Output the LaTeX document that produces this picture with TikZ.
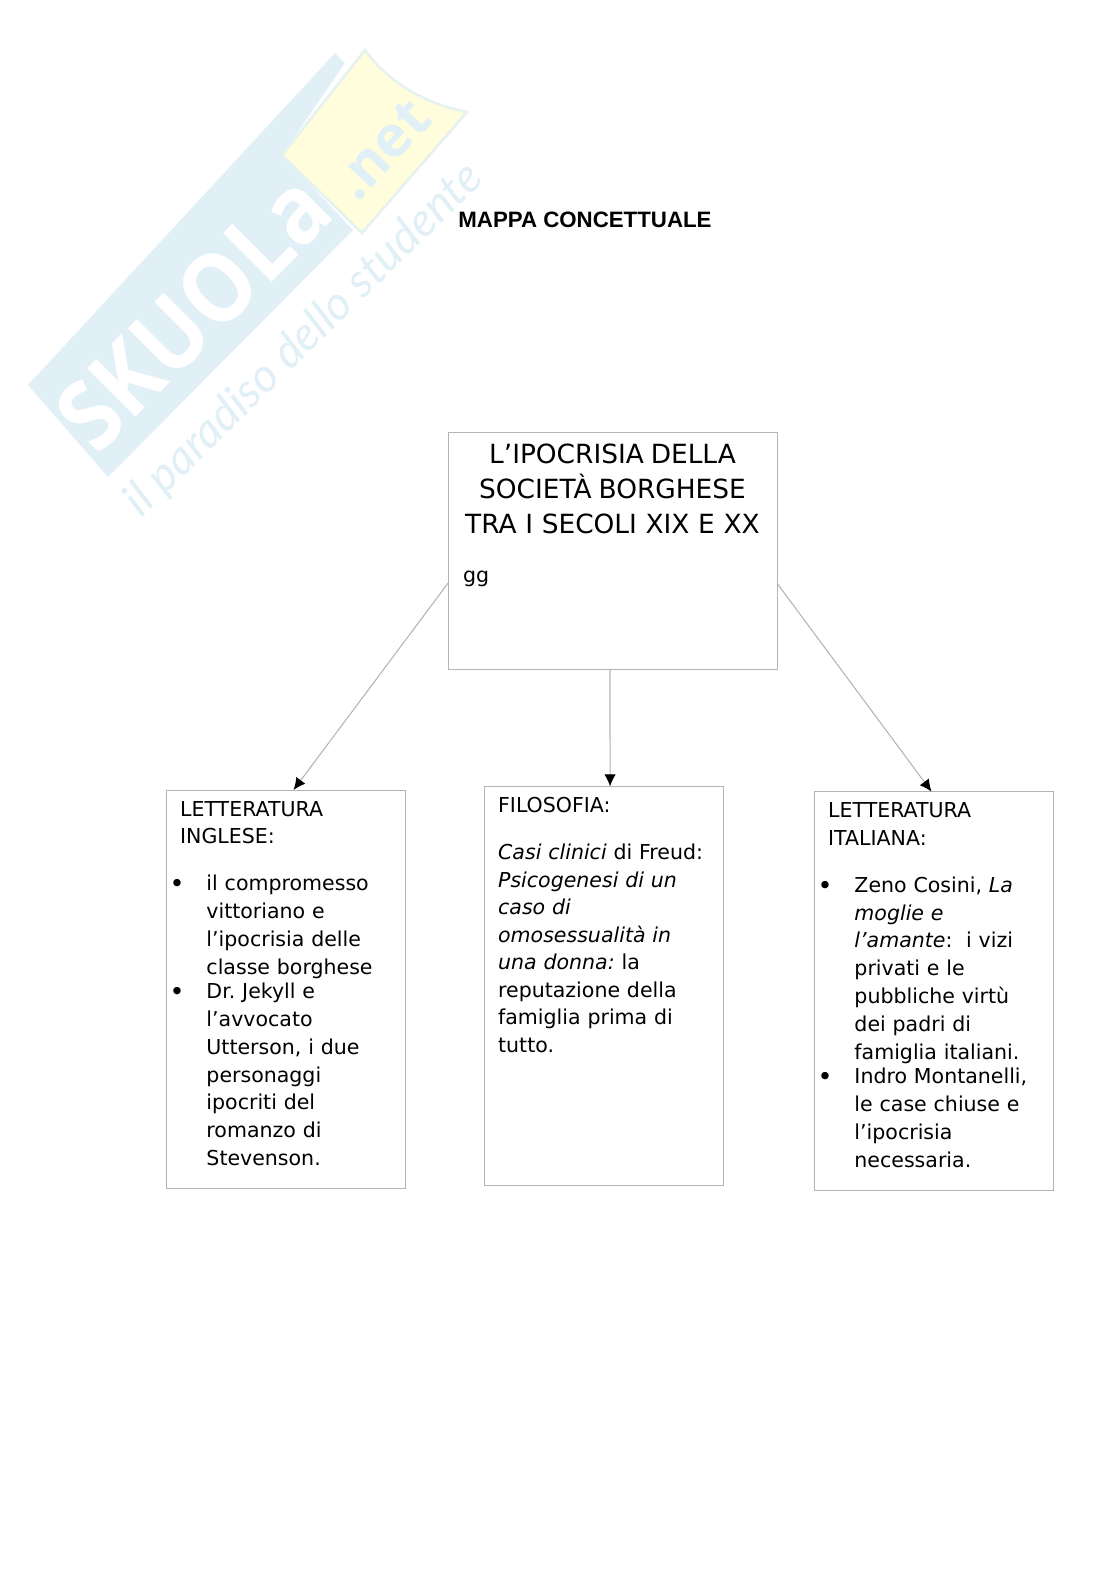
\documentclass[tikz,border=0pt]{standalone}
\usepackage{fontspec}
\usepackage{xcolor}
\usetikzlibrary{positioning, arrows.meta}
\setmainfont{DejaVu Sans}
\newfontfamily\titolofont{Liberation Sans}
\newfontfamily\marchiofont{Open Sans}
\newfontfamily\mottofont{Lato}
\definecolor{bordo}{HTML}{B4B4B4}
\definecolor{marchioblu}{HTML}{E1EFF7}
\definecolor{marchiogiallo}{HTML}{FFFDDC}
\definecolor{marchiotratto}{HTML}{E6F2EE}
\newcommand{\voce}[1]{\par\noindent\makebox[19.75pt][l]{\hspace*{-7.9pt}\raisebox{-1.3pt}{\fontsize{19}{19}\selectfont •}}%
    \parbox[t]{139pt}{\fontsize{15.4}{20.85}\selectfont\raggedright #1\par\xdef\ultimaprof{\the\prevdepth}}\par\prevdepth=\ultimaprof\relax}
\frenchspacing

\begin{document}
\begin{tikzpicture}[
            x=0.75pt, y=-0.75pt,
            scatola/.style={draw=bordo, line width=0.7pt, anchor=north west, outer sep=0pt,
                inner xsep=10.6pt, inner ysep=8.5pt, text width=158.1pt, align=left,
                font=\fontsize{15.4}{20.6}\selectfont},
            freccia/.style={draw=bordo, line width=0.8pt, -{Latex[black, length=9pt, width=8.5pt]}},
        ]
            \useasboundingbox (0,0) rectangle (1116,1579);
            % marchio
            \fill[marchioblu] (28,385) -- (335,53) -- (345,63) -- (282,155) -- (353,230) -- (108,477) -- cycle;
            \fill[marchiogiallo, draw=marchiotratto, line width=2pt] (282,155) -- (365,50)
                .. controls (390,85) and (430,105) .. (467,112) -- (362,233) -- cycle;
            \node[rotate=45, xscale=.9, text=white, inner sep=0pt] (marchio) at (193,312)
                {\marchiofont\bfseries\fontsize{72}{72}\selectfont SKUOLa};
            \node[rotate=47, text=marchioblu, inner sep=0pt] (marchionet) at (382,150)
                {\marchiofont\bfseries\fontsize{43}{43}\selectfont .net};
            \node[rotate=44.5, text=marchioblu, inner sep=0pt] (motto) at (304,340)
                {\mottofont\itshape\fontsize{35}{35}\selectfont il paradiso dello studente};

            \node[inner sep=0pt] (titolo) at (585,219.5)
                {\titolofont\bfseries\fontsize{16.7}{20}\selectfont MAPPA CONCETTUALE};

            \node[scatola, inner xsep=11.25pt, inner ysep=9.2pt, text width=224.25pt, text depth=144.85pt] (ipocrisia) at (448,432) {%
                {\fontsize{19.8}{26.2}\selectfont\centering L’IPOCRISIA DELLA\\SOCIETÀ BORGHESE\\\mbox{\spaceskip=6.5pt TRA I SECOLI XIX E XX}\par}%
                \vspace{16pt}gg};
            \node[scatola, text depth=270.3pt] (inglese) at (166,790) {%
                LETTERATURA\\INGLESE:\par\vspace{14.6pt}%
                \voce{il compromesso\\vittoriano e\\l’ipocrisia delle\\classe borghese}\vspace{-2.2pt}%
                \voce{Dr. Jekyll e\\l’avvocato\\Utterson, i due\\personaggi\\ipocriti del\\romanzo di\\Stevenson.}};
            \node[scatola, text depth=270.7pt] (filosofia) at (484,786.4) {%
                FILOSOFIA:\par\vspace{14.6pt}%
                \emph{Casi clinici} di Freud:\\\emph{Psicogenesi di un}\\\emph{caso di}\\\emph{omosessualità in}\\\emph{una donna:} la\\reputazione della\\famiglia prima di\\tutto.};
            \node[scatola, text depth=271pt] (italiana) at (814,791.6) {%
                LETTERATURA\\ITALIANA:\par\vspace{14.6pt}%
                \voce{Zeno Cosini, \emph{La}\\\emph{moglie e}\\\emph{l’amante}:~ i vizi\\privati e le\\pubbliche virtù\\dei padri di\\famiglia italiani.}\vspace{-2.2pt}%
                \voce{Indro Montanelli,\\le case chiuse e\\l’ipocrisia\\necessaria.}};

            \draw[freccia] ([yshift=-24.4pt]ipocrisia.west) -- ([xshift=6pt]inglese.north);
            \draw[freccia] ([xshift=-1.9pt]ipocrisia.south) -- ([xshift=4.9pt]filosofia.north);
            \draw[freccia] ([yshift=-24.4pt]ipocrisia.east) -- ([xshift=-1.5pt]italiana.north);
        \end{tikzpicture}
\end{document}
